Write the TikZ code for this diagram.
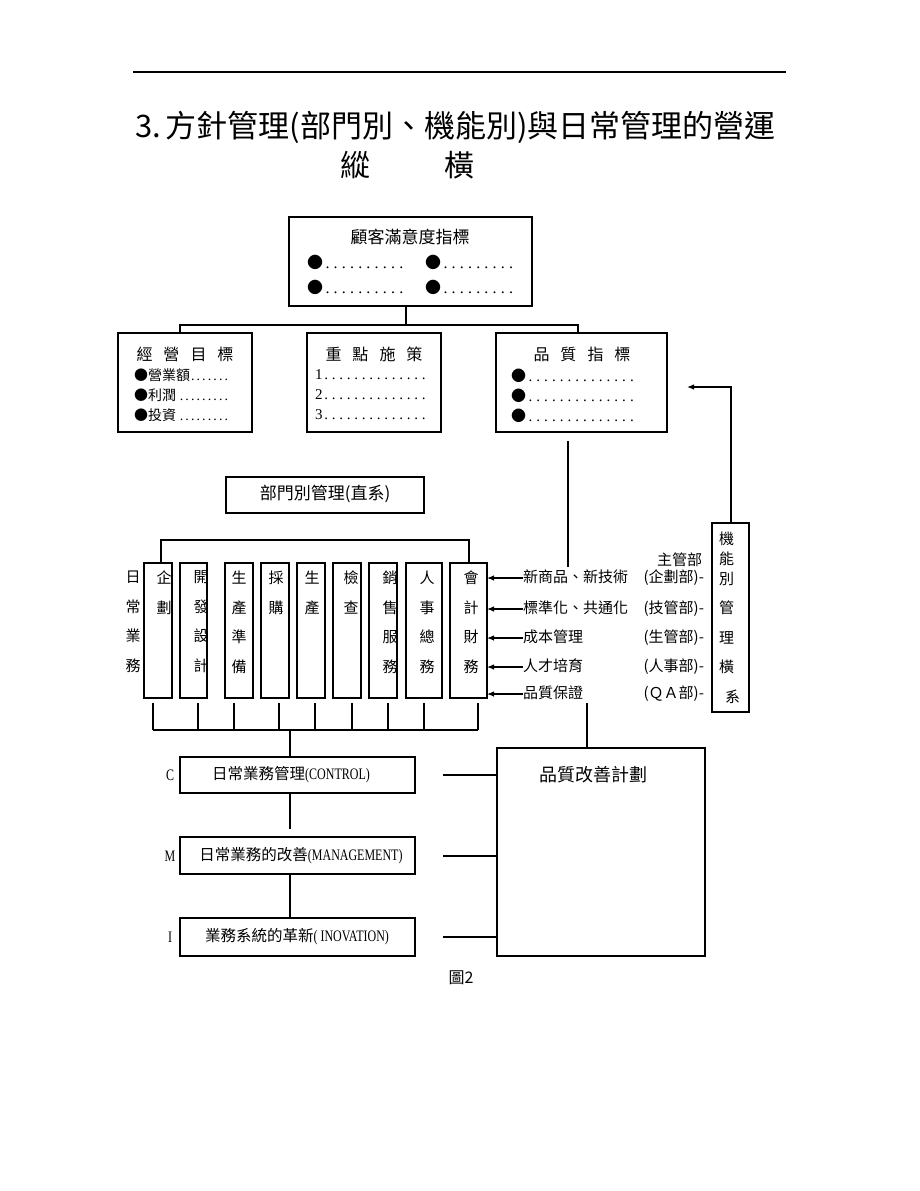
\documentclass[tikz,border=0pt]{standalone}
\usepackage{fontspec}
\setmainfont{Liberation Serif}
\newfontfamily\cjk{Noto Sans CJK TC}
\newfontfamily\cond[FakeStretch=0.75]{Liberation Serif}
\usetikzlibrary{arrows.meta,calc}
\newcommand\lead[1]{\leaders\hbox to #1{\hss\rmfamily.\hss}\hfill}
\newcommand\fsz[1]{\fontsize{#1}{#1}\selectfont}
\newcommand\colfont{\cjk\fontsize{15pt}{29.5pt}\selectfont}
\begin{document}
\begin{tikzpicture}[x=1pt,y=-1pt,
  box/.style={draw,line width=1.5pt,inner sep=0pt,outer sep=0pt},
  txt/.style={inner sep=0pt,outer sep=0pt},
  ln/.style={line width=1.4pt},
  arr/.style={line width=1.2pt,-{Latex[length=7pt,width=5.5pt]}},
  colt/.style={txt,anchor=north,align=center,font=\colfont}]
\fill[white] (0,0) rectangle (920,1191);
\path[use as bounding box] (0,0) rectangle (920,1191);

% top rule
\coordinate (ruleL) at (133,72);
\coordinate (ruleR) at (786,72);
\draw[line width=1.2pt] (ruleL) -- (ruleR);

% title
\node[txt,anchor=west,font=\cjk\fsz{31}] (title) at (135,127) {3.\,方針管理(部門別、機能別)與日常管理的營運};
\node[txt,font=\cjk\fsz{30}] (zong) at (355,165) {縱};
\node[txt,font=\cjk\fsz{30}] (heng) at (459,165) {橫};

% top box
\node[box,minimum width=243pt,minimum height=89pt] (top) at (410.5,261.5) {};
\node[txt,font=\cjk\fsz{17}] (topT) at (410,237) {顧客滿意度指標};
\node[txt,anchor=west,font=\cjk\fsz{16}] (topA1) at (307,262) {\makebox[106pt][l]{●\lead{8.2pt}}};
\node[txt,anchor=west,font=\cjk\fsz{16}] (topB1) at (425,262) {\makebox[97pt][l]{●\lead{8.2pt}}};
\node[txt,anchor=west,font=\cjk\fsz{16}] (topA2) at (307,287) {\makebox[106pt][l]{●\lead{8.2pt}}};
\node[txt,anchor=west,font=\cjk\fsz{16}] (topB2) at (425,287) {\makebox[97pt][l]{●\lead{8.2pt}}};

% second row boxes
\node[box,minimum width=134pt,minimum height=99pt] (kpi1) at (185,382.5) {};
\node[box,minimum width=134pt,minimum height=99pt] (kpi2) at (374,382.5) {};
\node[box,minimum width=171pt,minimum height=99pt] (kpi3) at (581.5,382.5) {};

\coordinate (busT) at (406,325);
\coordinate (busL) at (180,325);
\coordinate (busR) at (578,325);
\draw[ln] (top.south -| busT) -- (busT);
\draw[ln] (kpi1.north -| busL) -- (busL) -- (busR) -- (kpi3.north -| busR);

\node[txt,font=\cjk\fsz{16}] (k1T) at (185,354) {經\hspace{11pt}營\hspace{11pt}目\hspace{11pt}標};
\node[txt,anchor=west,font=\cjk\fsz{14}] (k1a) at (134,375) {\makebox[99pt][l]{●營業額\lead{5.6pt}}};
\node[txt,anchor=west,font=\cjk\fsz{14}] (k1b) at (134,395) {\makebox[99pt][l]{●利潤\lead{5.6pt}}};
\node[txt,anchor=west,font=\cjk\fsz{14}] (k1c) at (134,415) {\makebox[99pt][l]{●投資\lead{5.6pt}}};

\node[txt,font=\cjk\fsz{16}] (k2T) at (374,354) {重\hspace{11pt}點\hspace{11pt}施\hspace{11pt}策};
\node[txt,anchor=west,font=\fsz{15}] (k2a) at (315,375) {\makebox[113pt][l]{1\lead{7.5pt}}};
\node[txt,anchor=west,font=\fsz{15}] (k2b) at (315,395) {\makebox[113pt][l]{2\lead{7.5pt}}};
\node[txt,anchor=west,font=\fsz{15}] (k2c) at (315,415) {\makebox[113pt][l]{3\lead{7.5pt}}};

\node[txt,font=\cjk\fsz{16}] (k3T) at (582,354) {品\hspace{11pt}質\hspace{11pt}指\hspace{11pt}標};
\node[txt,anchor=west,font=\cjk\fsz{15}] (k3a) at (511,376) {\makebox[127pt][l]{●\lead{7.8pt}}};
\node[txt,anchor=west,font=\cjk\fsz{15}] (k3b) at (511,396) {\makebox[127pt][l]{●\lead{7.8pt}}};
\node[txt,anchor=west,font=\cjk\fsz{15}] (k3c) at (511,416) {\makebox[127pt][l]{●\lead{7.8pt}}};

% department box
\node[box,minimum width=198pt,minimum height=36pt] (dept) at (325,495) {};
\node[txt,font=\cjk\fsz{17}] (deptT) at (325,494) {部門別管理(直系)};

% columns
\foreach \n/\cx/\w in {1/158/28,2/193.5/27,3/239/28,4/275/28,5/311/28,6/347/28,7/383/28,8/424/36,9/468.5/37}
  \node[box,minimum width=\w pt,minimum height=135pt] (c\n) at (\cx,630.5) {};

\node[colt] (tday) at (133,571) {日\\常\\業\\務};
\node[colt] (tc1) at (164,571) {企\\劃};
\node[colt] (tc2) at (201,571) {開\\發\\設\\計};
\node[colt] (tc3) at (239,571) {生\\產\\準\\備};
\node[colt] (tc4) at (276,571) {採\\購};
\node[colt] (tc5) at (312,571) {生\\產};
\node[colt] (tc6) at (351,571) {檢\\查};
\node[colt] (tc7) at (390,571) {銷\\售\\服\\務};
\node[colt] (tc8) at (427,571) {人\\事\\總\\務};
\node[colt] (tc9) at (471,571) {會\\計\\財\\務};

% top bracket
\coordinate (tl) at (161,540);
\coordinate (tr) at (469,540);
\draw[ln] (c1.north -| tl) -- (tl) -- (tr) -- (c9.north -| tr);

% bottom bracket
\foreach \n/\x in {1/153,2/198,3/234,4/279,5/315,6/352,7/388,8/424,9/478}{
  \coordinate (bt\n) at (\x,730);
  \draw[ln] (c\n.south -| bt\n) ++(0,5) -- (bt\n);
}
\draw[ln] (bt1) -- (bt9);

% C M I boxes
\node[box,minimum width=235pt,minimum height=36pt] (C) at (297.5,775) {};
\node[box,minimum width=235pt,minimum height=37pt] (M) at (297.5,855.5) {};
\node[box,minimum width=235pt,minimum height=38pt] (I) at (297.5,937) {};
\coordinate (bc) at (290,730);
\draw[ln] (bc) -- (C.north -| bc);
\draw[ln] (C.south -| bc) -- ++(0,36);
\draw[ln] (M.south -| bc) -- (I.north -| bc);

\node[txt,font=\cond\fsz{16}] (lC) at (170,775) {C};
\node[txt,font=\cond\fsz{16}] (lM) at (170,856) {M};
\node[txt,font=\cond\fsz{16}] (lI) at (170,937) {I};

\node[txt,font=\cjk\fsz{15.5}] (tC) at (291,775) {日常業務管理{\cond\fsz{16}(CONTROL)}};
\node[txt,font=\cjk\fsz{15.5}] (tM) at (301,856) {日常業務的改善{\cond\fsz{16}(MANAGEMENT)}};
\node[txt,font=\cjk\fsz{15.5}] (tI) at (297,937) {業務系統的革新{\cond\fsz{16}( INOVATION)}};

% plan box
\node[box,minimum width=208pt,minimum height=208pt] (plan) at (601,852) {};
\node[txt,font=\cjk\fsz{18}] (planT) at (593,775) {品質改善計劃};
\coordinate (hC) at (443,775);
\coordinate (hM) at (443,856);
\coordinate (hI) at (443,937);
\draw[ln] (hC) -- (hC -| plan.west);
\draw[ln] (hM) -- (hM -| plan.west);
\draw[ln] (hI) -- (hI -| plan.west);

% functional box
\node[box,minimum width=37pt,minimum height=189pt] (func) at (730.5,617.5) {};
\node[txt,anchor=north west,align=left,font=\colfont] (ftxt) at (719,532) {機\\[-10pt]能\\[-9.5pt]別\\管\\理\\橫\\\hspace*{6pt}系};
\coordinate (fa) at (731,387);
\coordinate (fe) at (687,387);
\draw[arr] (func.north -| fa) -- (fa) -- (fe);

\node[txt,anchor=east,font=\cjk\fsz{15}] (zgb) at (702,560) {主管部};
\node[txt,anchor=west,font=\cjk\fsz{15}] (r1) at (523,578) {\makebox[181pt][l]{新商品、新技術\hfill(企劃部)-}};
\node[txt,anchor=west,font=\cjk\fsz{15}] (r2) at (523,609) {\makebox[181pt][l]{標準化、共通化\hfill(技管部)-}};
\node[txt,anchor=west,font=\cjk\fsz{15}] (r3) at (523,638) {\makebox[181pt][l]{成本管理\hfill(生管部)-}};
\node[txt,anchor=west,font=\cjk\fsz{15}] (r4) at (523,667) {\makebox[181pt][l]{人才培育\hfill(人事部)-}};
\node[txt,anchor=west,font=\cjk\fsz{15}] (r5) at (523,694) {\makebox[181pt][l]{品質保證\hfill(ＱＡ部)-}};
\foreach \n in {1,...,5}
  \draw[arr] (r\n.west) -- (r\n.west -| c9.east);

\coordinate (vq1) at (568,441);
\coordinate (vq2) at (568,567);
\draw[ln] (vq1) -- (vq2);
\coordinate (pq) at (587,703);
\draw[ln] (pq) -- (plan.north -| pq);

\node[txt,font=\cjk\fsz{16}] (fig) at (461,978) {圖2};
\end{tikzpicture}
\end{document}
